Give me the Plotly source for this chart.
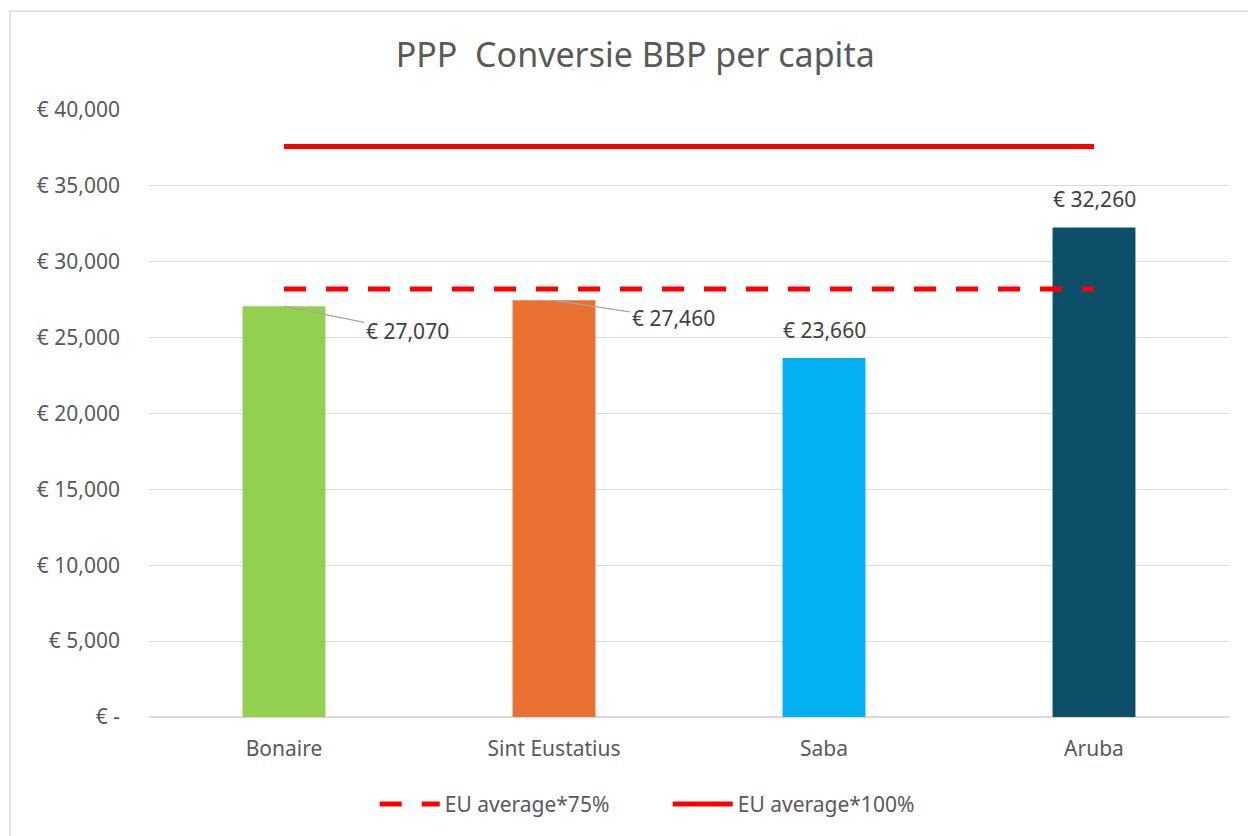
import plotly.graph_objects as go

# data
islands = ["Bonaire", "Sint Eustatius", "Saba", "Aruba"]
gdp_ppp = [27070, 27460, 23660, 32260]
bar_colors = ["#92D050", "#E97132", "#00B0F0", "#0B5068"]
eu_average = 37600
eu_75 = [eu_average * 0.75] * len(islands)
eu_100 = [eu_average] * len(islands)

tick_vals = [0, 5000, 10000, 15000, 20000, 25000, 30000, 35000, 40000]
tick_text = ["€ -"] + [f"€ {v:,}" for v in tick_vals[1:]]

FONT = "Noto Sans"
GREY = "#595959"

fig = go.Figure()

fig.add_trace(go.Bar(
    x=islands, y=gdp_ppp, marker=dict(color=bar_colors, line=dict(width=0)),
    width=0.307, showlegend=False, hoverinfo="x+y",
))

fig.add_trace(go.Scatter(
    x=islands, y=eu_75, mode="lines", name="EU average*75%",
    line=dict(color="#FF0000", width=5, dash="22px,20px"),
))
fig.add_trace(go.Scatter(
    x=islands, y=eu_100, mode="lines", name="EU average*100%",
    line=dict(color="#FF0000", width=5),
))

# data labels: first two pushed right with leader lines, others above the bar
offsets = {"Bonaire": (123, 25), "Sint Eustatius": (119, 18)}
for name, val in zip(islands, gdp_ppp):
    label = f"€ {val:,}"
    if name in offsets:
        ax, ay = offsets[name]
        fig.add_annotation(
            x=name, y=val, text=label, showarrow=True, arrowhead=0,
            arrowwidth=1.3, arrowcolor="#A6A6A6", ax=ax, ay=ay,
            font=dict(family=FONT, size=21, color="#404040"),
        )
    else:
        fig.add_annotation(
            x=name, y=val, text=label, showarrow=False, yanchor="bottom",
            yshift=12, font=dict(family=FONT, size=21, color="#404040"),
        )

# chart-area border
fig.add_shape(
    type="rect", xref="paper", yref="paper",
    x0=-139 / 1080, x1=1.05, y0=-0.3, y1=(718 - 11) / 608,
    line=dict(color="#D9D9D9", width=1.5), fillcolor="rgba(0,0,0,0)",
    layer="below",
)

fig.update_layout(
    width=1248, height=836,
    margin=dict(l=149, r=19, t=110, b=118),
    paper_bgcolor="white", plot_bgcolor="white",
    font=dict(family=FONT, size=21, color=GREY),
    title=dict(
        text="PPP  Conversie BBP per capita", x=0.509, xanchor="center",
        y=1 - 55 / 836, yanchor="middle",
        font=dict(family=FONT, size=34, color=GREY),
    ),
    legend=dict(
        orientation="h", x=0.209, xanchor="left", y=-0.142, yanchor="middle",
        font=dict(family=FONT, size=21, color=GREY), itemwidth=60,
        entrywidth=218, entrywidthmode="pixels",
    ),
    xaxis=dict(
        showgrid=False, showline=False, ticks="", tickfont=dict(size=21, color=GREY),
        ticklabelstandoff=17,
    ),
    yaxis=dict(
        range=[0, 40000], tickvals=tick_vals, ticktext=tick_text,
        showgrid=True, gridcolor="#D9D9D9", gridwidth=1,
        zeroline=True, zerolinecolor="#D9D9D9", zerolinewidth=1.5,
        ticks="", ticklabelstandoff=28, tickfont=dict(size=21, color=GREY),
    ),
)

fig.write_html(
    "out.html",
    config={"displayModeBar": False},
    post_script="document.body.style.margin='0';",
)
